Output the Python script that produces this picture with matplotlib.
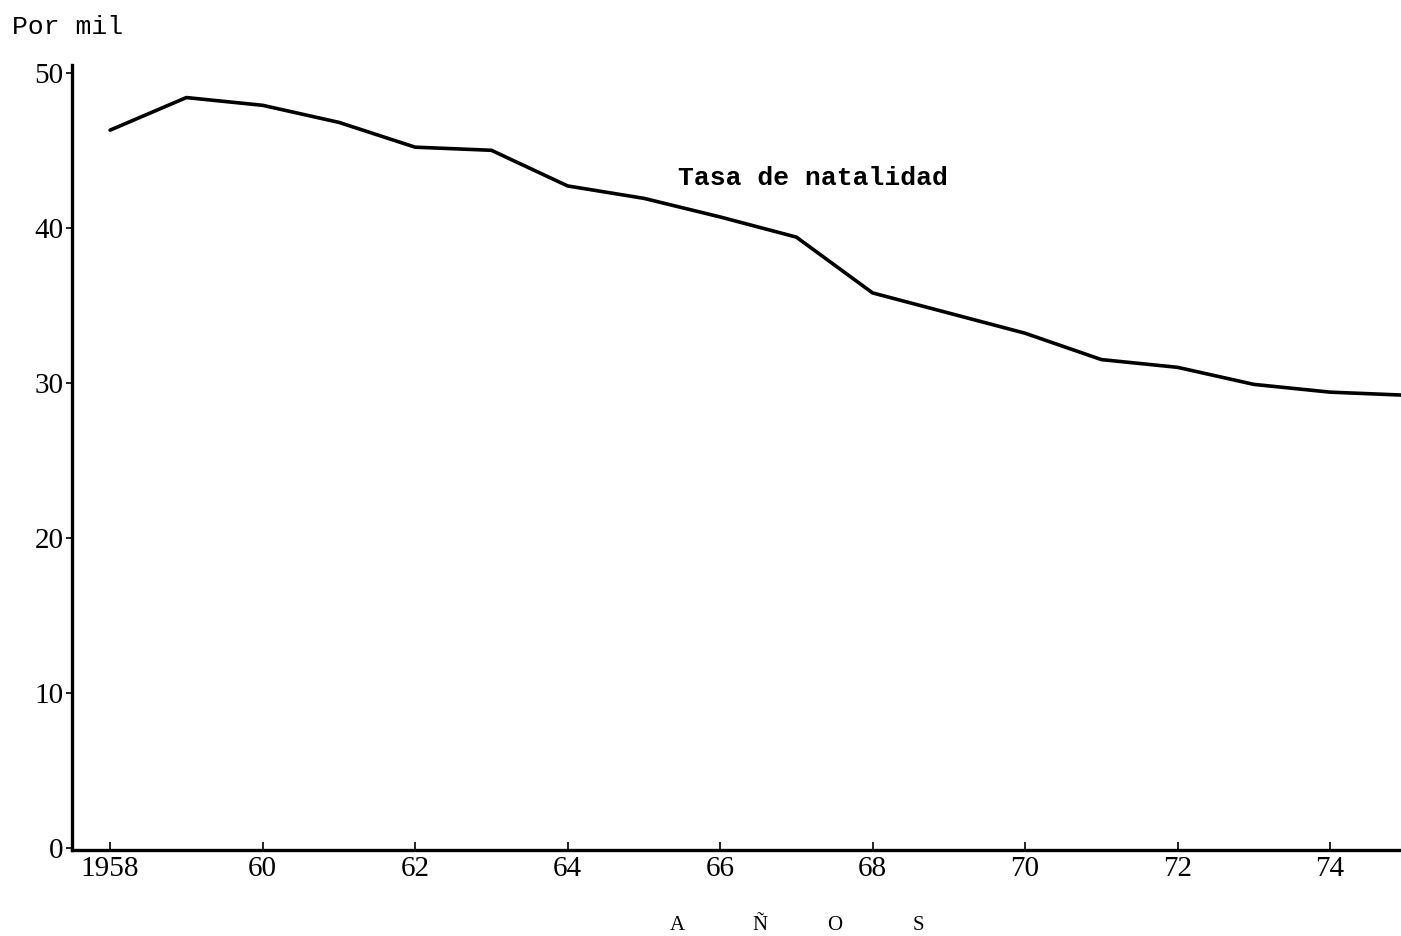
import matplotlib
matplotlib.use("Agg")
import matplotlib.pyplot as plt

years = [1958, 1959, 1960, 1961, 1962, 1963, 1964, 1965, 1966, 1967,
         1968, 1969, 1970, 1971, 1972, 1973, 1974, 1975]
tasa = [46.3, 48.4, 47.9, 46.8, 45.2, 45.0, 42.7, 41.9, 40.7, 39.4,
        35.8, 34.5, 33.2, 31.5, 31.0, 29.9, 29.4, 29.2]
xticks = [1958, 1960, 1962, 1964, 1966, 1968, 1970, 1972, 1974]
xticklabels = ["1958", "60", "62", "64", "66", "68", "70", "72", "74"]
yticks = [0, 10, 20, 30, 40, 50]
yticklabels = ["0", "10", "20", "30", "40", "50"]
axis_letters = ["A", "Ñ", "O", "S"]

W, H = 1401, 936
fig = plt.figure(figsize=(W / 100, H / 100), dpi=100)
left, right = 72, 1401
bottom, top = 850, 65
ax = fig.add_axes([left / W, 1 - bottom / H, (right - left) / W, (bottom - top) / H])

ax.plot(years, tasa, color="black", lw=2.6, solid_capstyle="round")

ax.set_xlim(1957.5, 1974.93)
ax.set_ylim(-0.13, 50.5)
ax.spines["top"].set_visible(False)
ax.spines["right"].set_visible(False)
for s in ["left", "bottom"]:
    ax.spines[s].set_linewidth(2.4)

ax.set_xticks(xticks)
ax.set_xticklabels(xticklabels, family="Liberation Serif", fontsize=21)
ax.set_yticks(yticks)
ax.set_yticklabels(yticklabels, family="Liberation Serif", fontsize=21)
ax.tick_params(axis="x", direction="in", length=6, width=1.2, pad=4)
ax.tick_params(axis="y", direction="out", length=4, width=1.2, pad=2)

ax.text(1965.45, 43.2, "Tasa de natalidad", family="Liberation Mono",
        fontweight="bold", fontsize=19, ha="left", va="center")

fig.text(12 / W, 1 - 27 / H, "Por mil", family="Liberation Mono",
         fontsize=19, ha="left", va="center")
for letter, xp in zip(axis_letters, [677, 760, 835, 918]):
    fig.text(xp / W, 1 - 926 / H, letter, family="Liberation Serif",
             fontsize=15, ha="center", va="center")

fig.savefig("out.png", dpi=100, facecolor="white")
